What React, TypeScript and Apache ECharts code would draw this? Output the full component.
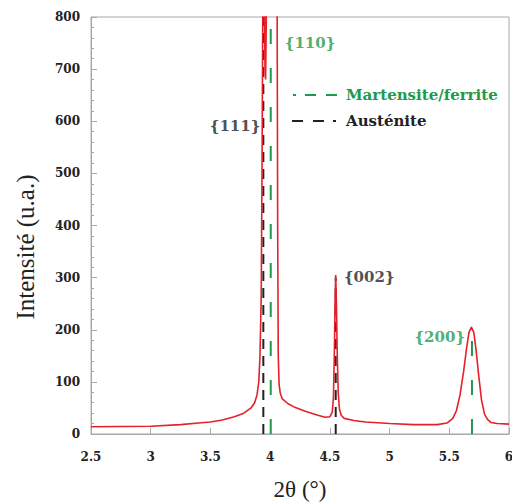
import React, { useEffect, useRef } from "react";
import * as echarts from "echarts";

// Diffraction profile (2θ in °, intensity in u.a.)
const twoTheta = [
  2.5, 2.75, 3.0, 3.25, 3.4, 3.5, 3.6, 3.7, 3.78, 3.84, 3.87, 3.89, 3.905, 3.915, 3.925, 3.932, 3.94, 3.946,
  3.952, 3.957, 3.962, 3.968, 3.975, 4.0, 4.03, 4.05, 4.058, 4.063, 4.068, 4.075, 4.085, 4.1, 4.15, 4.2,
  4.3, 4.4, 4.46, 4.5, 4.52, 4.53, 4.538, 4.544, 4.549, 4.555, 4.562, 4.57, 4.58, 4.595, 4.62, 4.7, 4.8,
  5.0, 5.2, 5.4, 5.48, 5.53, 5.56, 5.59, 5.62, 5.645, 5.665, 5.685, 5.705, 5.725, 5.745, 5.77, 5.795,
  5.82, 5.85, 5.9, 6.0,
];
const intensity = [
  14, 14.5, 15, 18, 21, 23, 27, 33, 40, 50, 60, 75, 100, 150, 260, 500, 900, 1000,
  850, 700, 680, 800, 1200, 2500, 2000, 1200, 880, 400, 150, 95, 78, 68, 58, 52,
  43, 36, 32, 33, 42, 70, 160, 260, 305, 250, 150, 80, 48, 36, 30, 26, 23,
  20, 18, 18, 21, 30, 45, 75, 120, 165, 195, 205, 195, 160, 115, 65, 38,
  28, 22, 20, 19,
];

// Reference peak positions
const peakMartensite = [4.005, 5.69];
const peakMartensiteTop = [800, 200];
const peakAustenite = [3.943, 4.549];
const peakAusteniteTop = [800, 300];

// Peak labels: [2θ, intensity, text, phase]
const peakLabels: [number, number, string, string][] = [
  [4.334, 750, "{110}", "m"],
  [3.706, 590, "{111}", "a"],
  [4.83, 302, "{002}", "a"],
  [5.42, 186, "{200}", "m"],
];

const xTicks = { min: 2.5, max: 6, interval: 0.5 };
const yTicks = { min: 0, max: 800, interval: 100 };

const RED = "#e5202a";
const GREEN = "#21994a";
const BLACK = "#222222";
const AXIS = "#a8a8a8";
const BOLD = "'DejaVu Serif', serif";
const NAME = "'Liberation Serif', serif";

export default function App() {
  const ref = useRef<HTMLDivElement>(null);
  useEffect(() => {
    if (!ref.current) return;
    const chart = echarts.init(ref.current, undefined, { renderer: "svg" });
    const profile = twoTheta.map((x, i) => [x, intensity[i]]);
    const vlines: any[] = [];
    peakAustenite.forEach((x, i) => {
      vlines.push({
        type: "line",
        data: [[x, 0], [x, peakAusteniteTop[i]]],
        symbol: "none",
        lineStyle: { color: BLACK, width: 2, type: [10, 7] },
        z: 2,
        silent: true,
      });
    });
    peakMartensite.forEach((x, i) => {
      vlines.push({
        type: "line",
        data: [[x, 0], [x, peakMartensiteTop[i]]],
        symbol: "none",
        lineStyle: { color: GREEN, width: 2, type: [15, 24] },
        z: 2,
        silent: true,
      });
    });
    chart.setOption({
      animation: false,
      grid: {
        left: 91,
        right: 3,
        top: 17,
        bottom: 69,
        show: true,
        borderColor: AXIS,
        borderWidth: 1,
        containLabel: false,
        outerBoundsMode: "none",
      },
      xAxis: {
        type: "value",
        min: xTicks.min,
        max: xTicks.max,
        interval: xTicks.interval,
        name: "2θ (°)",
        nameLocation: "middle",
        nameGap: 44,
        nameTextStyle: { fontFamily: NAME, fontSize: 23, color: BLACK },
        axisLine: { lineStyle: { color: AXIS, width: 1 } },
        axisTick: { inside: true, length: 6, lineStyle: { color: AXIS } },
        axisLabel: {
          fontFamily: BOLD,
          fontWeight: "bold",
          fontSize: 12,
          color: BLACK,
          margin: 17,
          showMaxLabel: true,
          showMinLabel: true,
          hideOverlap: false,
        },
        splitLine: { show: false },
      },
      yAxis: {
        type: "value",
        min: yTicks.min,
        max: yTicks.max,
        interval: yTicks.interval,
        axisLine: { show: true, lineStyle: { color: AXIS, width: 1 } },
        axisTick: { show: true, inside: true, length: 6, lineStyle: { color: AXIS } },
        minorTick: { show: true, splitNumber: 5, length: 3, lineStyle: { color: AXIS } },
        axisLabel: { fontFamily: BOLD, fontWeight: "bold", fontSize: 12, color: BLACK, margin: 11 },
        splitLine: { show: false },
      },
      graphic: [
        {
          type: "text",
          x: 25,
          y: 247,
          rotation: Math.PI / 2,
          style: {
            text: "Intensité (u.a.)",
            fontFamily: NAME,
            fontSize: 25,
            fill: BLACK,
            align: "center",
            verticalAlign: "middle",
          },
        },
        {
          type: "line",
          shape: { x1: 293, y1: 95, x2: 337, y2: 95 },
          style: { stroke: GREEN, lineWidth: 2, lineDash: [3, 9, 11, 10, 11] },
        },
        {
          type: "text",
          x: 346,
          y: 95,
          style: {
            text: "Martensite/ferrite",
            fontFamily: BOLD,
            fontWeight: "bold",
            fontSize: 15,
            fill: GREEN,
            verticalAlign: "middle",
          },
        },
        {
          type: "line",
          shape: { x1: 292, y1: 121, x2: 336, y2: 121 },
          style: { stroke: BLACK, lineWidth: 2, lineDash: [11, 10, 11, 9, 3] },
        },
        {
          type: "text",
          x: 346,
          y: 121,
          style: {
            text: "Austénite",
            fontFamily: BOLD,
            fontWeight: "bold",
            fontSize: 15,
            fill: BLACK,
            verticalAlign: "middle",
          },
        },
      ],
      series: [
        ...vlines,
        {
          type: "line",
          data: profile,
          symbol: "none",
          lineStyle: { color: RED, width: 1.6 },
          z: 3,
          clip: true,
          silent: true,
        },
        {
          type: "scatter",
          symbolSize: 0,
          silent: true,
          data: peakLabels.map((p) => ({
            value: [p[0], p[1]],
            label: {
              show: true,
              position: "inside",
              formatter: p[2],
              fontFamily: BOLD,
              fontWeight: "bold",
              fontSize: 15,
              color: p[3] === "m" ? GREEN : BLACK,
            },
          })),
        },
      ],
    });
    return () => chart.dispose();
  }, []);
  return (
    <div
      ref={ref}
      style={{ position: "fixed", left: 0, top: 0, width: 512, height: 503, background: "#fff" }}
    />
  );
}
